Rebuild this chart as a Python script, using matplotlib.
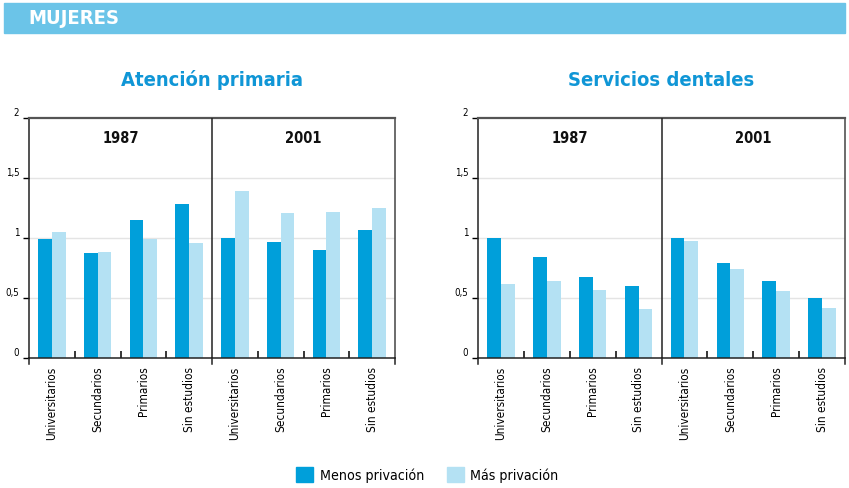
import numpy as np
import matplotlib.pyplot as plt
from matplotlib.patches import Rectangle

# Data
niveles = ["Universitarios", "Secundarios", "Primarios", "Sin estudios"]
periodos = ["1987", "2001"]

# Atención primaria: 1987 followed by 2001
ap_menos = [0.99, 0.875, 1.15, 1.28, 1.00, 0.965, 0.90, 1.065]
ap_mas = [1.05, 0.885, 0.99, 0.96, 1.39, 1.21, 1.215, 1.25]

# Servicios dentales: 1987 followed by 2001
sd_menos = [1.00, 0.84, 0.675, 0.60, 1.00, 0.79, 0.645, 0.50]
sd_mas = [0.62, 0.645, 0.57, 0.41, 0.975, 0.74, 0.56, 0.42]

yticks = [0, 0.5, 1, 1.5, 2]
ytick_labels = ["0", "0,5", "1", "1,5", "2"]

dark = "#009fda"
light = "#b4e1f3"
title_blue = "#1096d6"

plt.rcParams['font.family'] = ['DejaVu Sans']
plt.rcParams['font.stretch'] = 'condensed'

fig = plt.figure(figsize=(8.49, 4.88), dpi=100)

# Header bar
fig.patches.append(Rectangle((4 / 849, 1 - 33 / 488), 841 / 849, 30 / 488,
                             transform=fig.transFigure, color="#6bc4e8", zorder=0))
fig.text(28 / 849, 1 - 18 / 488, "MUJERES", color="white", fontsize=14.5,
         fontweight="bold", va="center", ha="left")


def draw_panel(ax, menos, mas, title):
    x = np.arange(len(menos))
    w = 0.3
    ax.bar(x - w / 2, menos, width=w, color=dark, zorder=2)
    ax.bar(x + w / 2, mas, width=w, color=light, zorder=2)
    ax.set_xlim(-0.5, len(menos) - 0.5)
    ax.set_ylim(0, 2)

    # grid
    for g in [0.5, 1, 1.5]:
        ax.axhline(g, color="#e4e4e4", lw=1, zorder=1)
    ax.axvline(3.5, color="#222222", lw=1.1, zorder=3)
    for xv in [-0.5, 3.5, 7.5]:
        ax.plot([xv, xv], [-0.05, 0], color="#222222", lw=1.1, clip_on=False)

    ax.set_yticks(yticks)
    ax.set_yticklabels(ytick_labels, fontsize=7)
    for lbl in ax.get_yticklabels():
        lbl.set_va("bottom")
    ax.tick_params(axis="y", direction="out", length=4, width=1, pad=3)

    ax.set_xticks(x)
    ax.set_xticklabels(niveles * 2, rotation=90, fontsize=8.5)
    ax.tick_params(axis="x", which="major", length=0, pad=6)
    ax.set_xticks([0.5, 1.5, 2.5, 4.5, 5.5, 6.5], minor=True)
    ax.tick_params(axis="x", which="minor", direction="in", length=5, width=1.1)

    for side in ["left", "bottom"]:
        ax.spines[side].set_color("#222222")
        ax.spines[side].set_linewidth(1.1)
    ax.spines["top"].set_color("#555555")
    ax.spines["top"].set_linewidth(1.6)
    ax.spines["right"].set_color("#444444")
    ax.spines["right"].set_linewidth(1.1)

    for i, p in enumerate(periodos):
        ax.text(1.5 + 4 * i, 1.83, p, ha="center", va="center",
                fontsize=10.5, fontweight="bold", color="#111111")

    ax.set_title(title, color=title_blue, fontsize=14.5, fontweight="bold", pad=23)


ax1 = fig.add_axes([29 / 849, 1 - 358.3 / 488, 366 / 849, 240.6 / 488])
draw_panel(ax1, ap_menos, ap_mas, "Atención primaria")

ax2 = fig.add_axes([478 / 849, 1 - 358.3 / 488, 367 / 849, 240.6 / 488])
draw_panel(ax2, sd_menos, sd_mas, "Servicios dentales")

# Legend
fig.patches.append(Rectangle((296 / 849, 1 - 482 / 488), 17 / 849, 15 / 488,
                             transform=fig.transFigure, color=dark))
fig.text(320 / 849, 1 - 476 / 488, "Menos privación", fontsize=10.2, va="center")
fig.patches.append(Rectangle((447 / 849, 1 - 482 / 488), 17 / 849, 15 / 488,
                             transform=fig.transFigure, color=light))
fig.text(470 / 849, 1 - 476 / 488, "Más privación", fontsize=10.2, va="center")

fig.savefig("out.png", dpi=100)
